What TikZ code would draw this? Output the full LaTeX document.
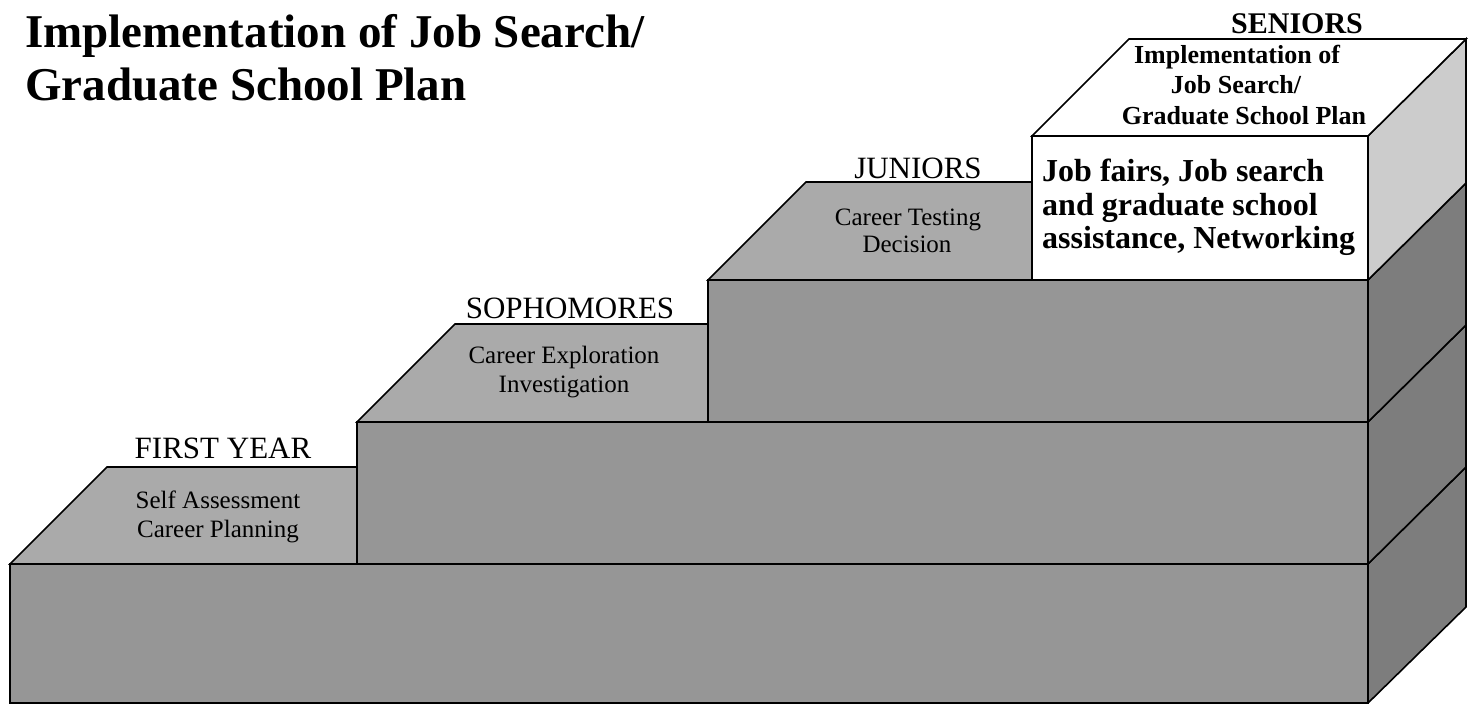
\documentclass[tikz,border=0pt]{standalone}
\usepackage{fontspec}
\setmainfont{Liberation Serif}
\definecolor{topgray}{RGB}{170,170,170}
\definecolor{frontgray}{RGB}{150,150,150}
\definecolor{sidegray}{RGB}{125,125,125}
\definecolor{lightside}{RGB}{204,204,204}
\tikzset{
  face/.style={draw=black, line width=1.6pt, line join=miter},
  topface/.style={face, fill=topgray},
  frontface/.style={face, fill=frontgray},
  sideface/.style={face, fill=sidegray},
  whiteface/.style={face, fill=white},
  lightface/.style={face, fill=lightside},
  txt/.style={inner sep=0pt, anchor=base},
  titletxt/.style={txt, anchor=base west, font=\fontsize{47}{53}\selectfont\bfseries},
  yeartxt/.style={txt, font=\fontsize{31}{36}\selectfont},
  facetxt/.style={txt, font=\fontsize{25}{29}\selectfont},
  seniortop/.style={txt, font=\fontsize{26}{30}\selectfont\bfseries},
  seniorhead/.style={txt, font=\fontsize{30}{34}\selectfont\bfseries},
  seniorfront/.style={txt, anchor=base west, font=\fontsize{32}{34}\selectfont\bfseries},
}
\begin{document}
\begin{tikzpicture}[x=1pt,y=-1pt]
\useasboundingbox (0,0) rectangle (1473,704);

% step 1 (first year)
\draw[sideface]  (1368,564) -- (1466,467) -- (1466,607) -- (1368,703) -- cycle;
\draw[frontface] (10,564) -- (1368,564) -- (1368,703) -- (10,703) -- cycle;
\draw[topface]   (10,564) -- (107,467) -- (357,467) -- (357,564) -- cycle;

% step 2 (sophomores)
\draw[sideface]  (1368,422) -- (1466,325) -- (1466,467) -- (1368,564) -- cycle;
\draw[frontface] (357,422) -- (1368,422) -- (1368,564) -- (357,564) -- cycle;
\draw[topface]   (357,422) -- (455,324) -- (708,324) -- (708,422) -- cycle;

% step 3 (juniors)
\draw[sideface]  (1368,280) -- (1466,183) -- (1466,325) -- (1368,422) -- cycle;
\draw[frontface] (708,280) -- (1368,280) -- (1368,422) -- (708,422) -- cycle;
\draw[topface]   (708,280) -- (806,182) -- (1032,182) -- (1032,280) -- cycle;

% senior box
\draw[lightface] (1368,136) -- (1466,39) -- (1466,183) -- (1368,280) -- cycle;
\draw[whiteface] (1032,136) -- (1368,136) -- (1368,280) -- (1032,280) -- cycle;
\draw[whiteface] (1032,136) -- (1129,39) -- (1466,39) -- (1368,136) -- cycle;

% title
\node[titletxt] (title1) at (25,47) {Implementation of Job Search/};
\node[titletxt] (title2) at (25,100) {Graduate School Plan};

% first year
\node[yeartxt] (fy) at (223,458) {FIRST YEAR};
\node[facetxt] (fy1) at (218,508) {Self Assessment};
\node[facetxt] (fy2) at (218,537) {Career Planning};

% sophomores
\node[yeartxt] (so) at (570,318) {SOPHOMORES};
\node[facetxt] (so1) at (564,363) {Career Exploration};
\node[facetxt] (so2) at (564,392) {Investigation};

% juniors
\node[yeartxt] (ju) at (918,178) {JUNIORS};
\node[facetxt] (ju1) at (908,225) {Career Testing};
\node[facetxt] (ju2) at (907,252) {Decision};

% seniors
\node[seniorhead] (se) at (1297,33) {SENIORS};
\node[seniortop] (se1) at (1237,63) {Implementation of};
\node[seniortop] (se2) at (1236,93) {Job Search/};
\node[seniortop] (se3) at (1244,124) {Graduate School Plan};
\node[seniorfront] (sf1) at (1042,181) {Job fairs, Job search};
\node[seniorfront] (sf2) at (1042,215) {and graduate school};
\node[seniorfront] (sf3) at (1042,248) {assistance, Networking};
\end{tikzpicture}
\end{document}
